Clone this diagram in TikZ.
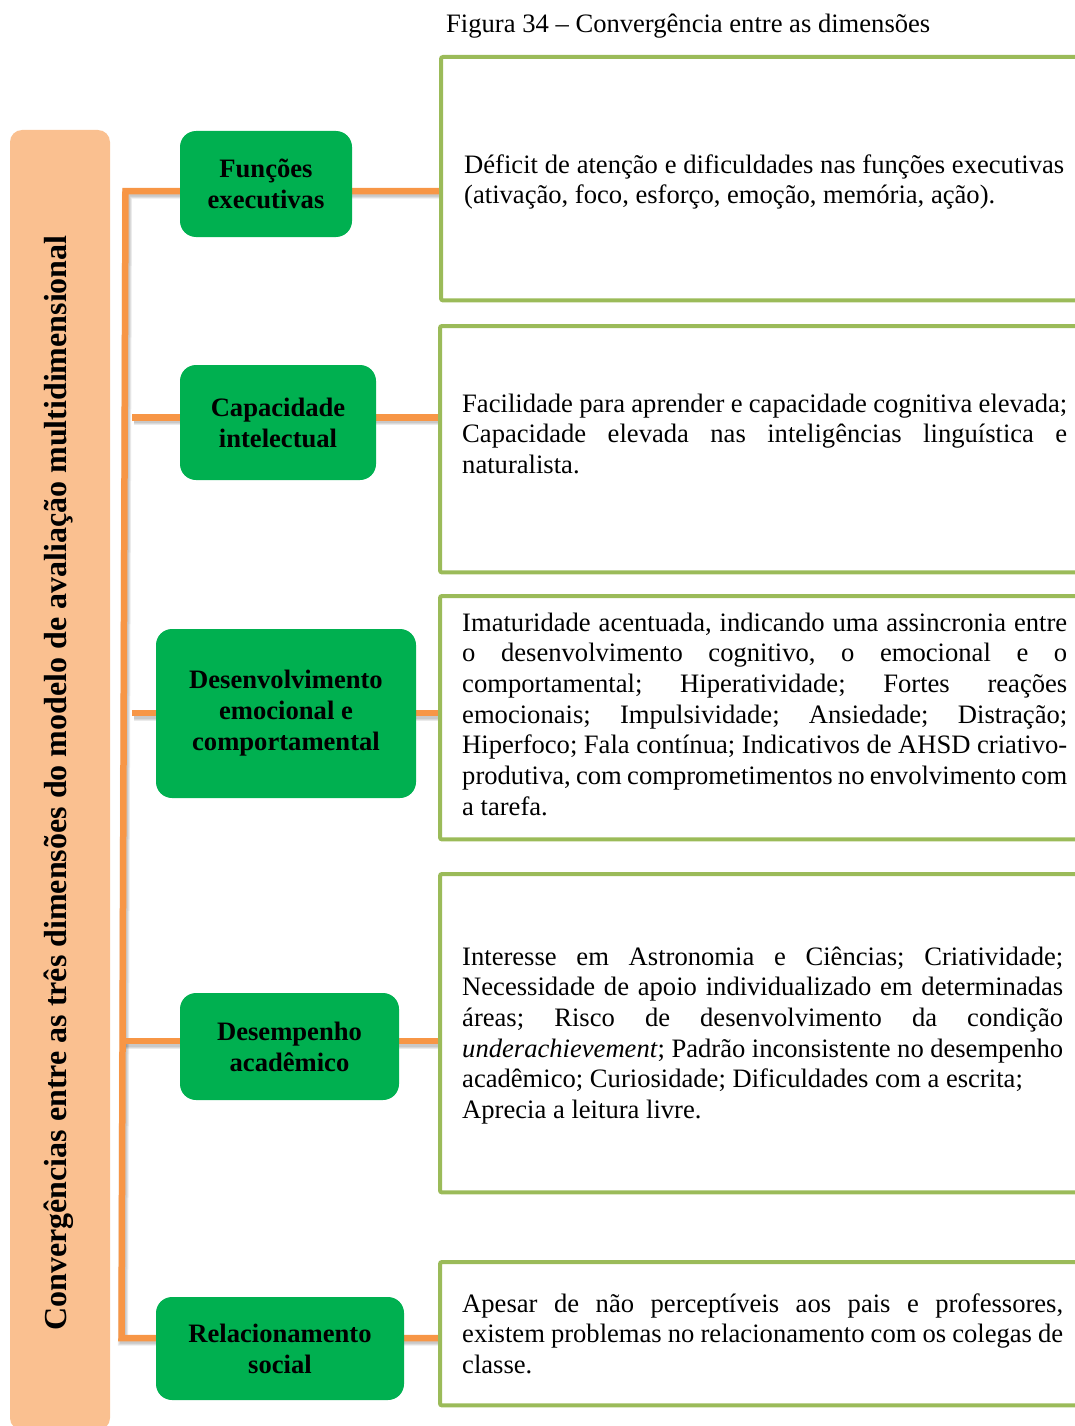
\documentclass[tikz,border=0pt]{standalone}
\usepackage{fontspec}
\setmainfont{Liberation Serif}
\usetikzlibrary{backgrounds}
\definecolor{peach}{HTML}{FAC090}
\definecolor{branch}{HTML}{F79646}
\definecolor{dimgreen}{HTML}{00B050}
\definecolor{framegreen}{HTML}{9BBB59}
% a justified line of fixed width
\newcommand\jline[2]{\makebox[#1][s]{#2}}
\frenchspacing

\begin{document}
\begin{tikzpicture}[x=1pt,y=-1pt,
  dimbox/.style={fill=dimgreen, rounded corners=16pt, align=center,
    font=\bfseries\fontsize{26.6}{31}\selectfont, inner sep=0pt},
  link/.style={draw=branch, line width=6.5pt},
  linkshadow/.style={draw=black, opacity=0.08, line width=#1,
    transform canvas={shift={(1.5pt,-2.5pt)}}},
  frameside/.style={draw=framegreen, line width=4pt, rounded corners=2pt},
  framearea/.style={anchor=north west, inner sep=0pt, minimum width=637pt},
  desc/.style={anchor=base west, inner sep=0pt, font=\fontsize{26.6}{30.7}\selectfont},
]
\useasboundingbox (0,0) rectangle (1075,1426);

% caption
\node[anchor=base west, inner sep=0pt, font=\fontsize{26.6}{30}\selectfont] (title)
  at (446,33) {Figura 34 – Convergência entre as dimensões};

% side band with its vertical heading
\node[fill=peach, rounded corners=12pt, minimum width=100pt, minimum height=1300pt,
  inner sep=0pt] (band) at (60,780) {};
\node[rotate=90, anchor=base, inner sep=0pt, font=\bfseries\fontsize{32}{36}\selectfont]
  (bandtext) at (66,783)
  {Convergências entre as três dimensões do modelo de avaliação multidimensional};

% dimension boxes
\node[dimbox, minimum width=172pt, minimum height=106pt] (d1) at (266,184) {Funções\\executivas};
\node[dimbox, minimum width=196pt, minimum height=115pt] (d2) at (278,422.5) {Capacidade\\intelectual};
\node[dimbox, minimum width=260pt, minimum height=169pt] (d3) at (286,713.5) {Desenvolvimento\\emocional e\\comportamental};
\node[dimbox, minimum width=219pt, minimum height=107pt] (d4) at (289.5,1046.5) {Desempenho\\acadêmico};
\node[dimbox, minimum width=248pt, minimum height=103pt] (d5) at (280,1348.5) {Relacionamento\\social};

% description frames (open to the right)
\node[framearea, minimum height=243pt] (r1) at (441,57) {};
\node[framearea, minimum height=246pt] (r2) at (440,326) {};
\node[framearea, minimum height=243pt] (r3) at (440,596) {};
\node[framearea, minimum height=318pt] (r4) at (440,874) {};
\node[framearea, minimum height=143pt] (r5) at (440,1262) {};
\foreach \r in {r1,r2,r3,r4,r5}
  \draw[frameside] (\r.north east) -- (\r.north west) -- (\r.south west) -- (\r.south east);

% trunk and branch points
\coordinate (ttop) at (125.5,191);
\coordinate (tbot) at (121.5,1338);
\coordinate (b2) at (132,417.5);
\coordinate (b3) at (132,713);
\coordinate (b4) at (122.5,1041);

\newcommand\connectors[1]{%
  \draw[#1] (r1.west |- ttop) -- (ttop) -- (tbot) -- (r5.west |- tbot);
  \draw[#1] (b2) -- (r2.west |- b2);
  \draw[#1] (b3) -- (r3.west |- b3);
  \draw[#1] (b4) -- (r4.west |- b4);
}
\begin{scope}[on background layer]
  % soft drop shadow built from a few translucent strokes
  \connectors{linkshadow=10pt}
  \connectors{linkshadow=8pt}
  \connectors{linkshadow=6pt}
  \connectors{link}
\end{scope}

% descriptions
\node[desc] (t1) at (464,173) {\parbox[t]{600pt}{%
  \jline{600pt}{Déficit de atenção e dificuldades nas funções executivas}\\
  (ativação, foco, esforço, emoção, memória, ação).}};

\node[desc] (t2) at (462,412) {\parbox[t]{605pt}{%
  \jline{605pt}{Facilidade para aprender e capacidade cognitiva elevada;}\\
  \jline{605pt}{Capacidade elevada nas inteligências linguística e}\\
  naturalista.}};

\node[desc] (t3) at (462,631) {\parbox[t]{605pt}{%
  \jline{605pt}{Imaturidade acentuada, indicando uma assincronia entre}\\
  \jline{605pt}{o desenvolvimento cognitivo, o emocional e o}\\
  \jline{605pt}{comportamental; Hiperatividade; Fortes reações}\\
  \jline{605pt}{emocionais; Impulsividade; Ansiedade; Distração;}\\
  \jline{605pt}{Hiperfoco; Fala contínua; Indicativos de AHSD criativo-}\\
  \jline{605pt}{produtiva, com comprometimentos no envolvimento com}\\
  a tarefa.}};

\node[desc] (t4) at (462,965) {\parbox[t]{601pt}{%
  \jline{601pt}{Interesse em Astronomia e Ciências; Criatividade;}\\
  \jline{601pt}{Necessidade de apoio individualizado em determinadas}\\
  \jline{601pt}{áreas; Risco de desenvolvimento da condição}\\
  \jline{601pt}{\textit{underachievement}; Padrão inconsistente no desempenho}\\
  acadêmico; Curiosidade; Dificuldades com a escrita;\\
  Aprecia a leitura livre.}};

\node[desc] (t5) at (462,1312) {\parbox[t]{601pt}{%
  \jline{601pt}{Apesar de não perceptíveis aos pais e professores,}\\
  \jline{601pt}{existem problemas no relacionamento com os colegas de}\\
  classe.}};
\end{tikzpicture}
\end{document}
